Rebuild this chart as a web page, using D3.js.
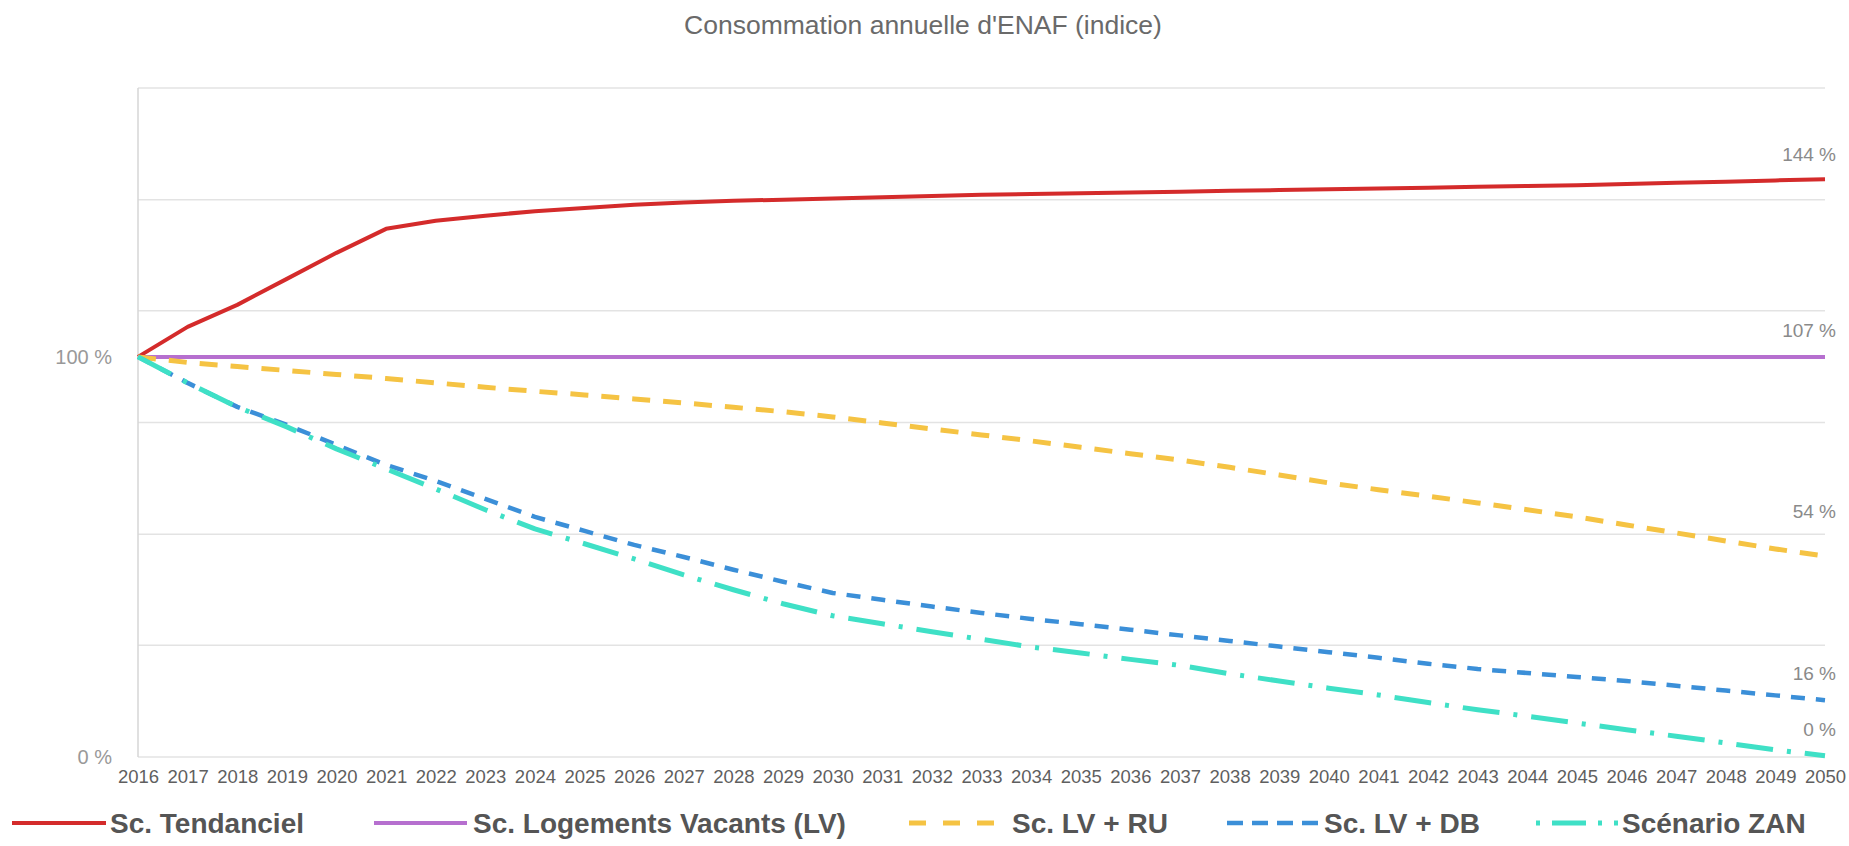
<!DOCTYPE html>
<html>
<head>
<meta charset="utf-8">
<script src="https://cdn.jsdelivr.net/npm/d3@7"></script>
<style>
  html, body { margin: 0; padding: 0; background: #fff; }
  svg { display: block; }
</style>
</head>
<body>
<div id="chart"></div>
<script>
// Données (indice, 2016 = 100)
const years = d3.range(2016, 2051);

const tendanciel = [100, 107.5, 113, 119.5, 126, 132, 134, 135.3, 136.4, 137.2,
  138, 138.6, 139, 139.3, 139.6, 139.9, 140.2, 140.5, 140.7, 140.9,
  141.1, 141.3, 141.5, 141.7, 141.9, 142.1, 142.3, 142.5, 142.7, 142.9,
  143.2, 143.5, 143.8, 144.1, 144.4];

const logementsVacants = [100, 100, 100, 100, 100, 100, 100, 100, 100, 100,
  100, 100, 100, 100, 100, 100, 100, 100, 100, 100,
  100, 100, 100, 100, 100, 100, 100, 100, 100, 100,
  100, 100, 100, 100, 100];

const lvRu = [100, 98.6, 97.6, 96.6, 95.6, 94.6, 93.5, 92.4, 91.4, 90.5,
  89.5, 88.5, 87.4, 86.3, 85, 83.5, 82, 80.5, 79, 77.4,
  75.8, 74.2, 72.4, 70.5, 68.5, 66.8, 65.2, 63.5, 61.8, 60,
  58, 56, 54, 52, 50.2];

const lvDb = [100, 93.5, 87.5, 83, 78, 73, 69, 64.5, 60, 56.5,
  53, 50, 46.8, 43.8, 41, 39.3, 37.6, 36, 34.5, 33.2,
  31.8, 30.4, 29, 27.6, 26.2, 24.8, 23.3, 22, 21, 20,
  19, 17.8, 16.6, 15.4, 14.2];

const zan = [100, 93.5, 87.5, 82.5, 77, 72, 67, 61.8, 57, 53.3,
  49.5, 45.5, 41.8, 38.3, 35.3, 33.3, 31.3, 29.4, 27.5, 26,
  24.4, 22.9, 20.8, 19, 17.2, 15.5, 13.6, 11.8, 10.2, 8.5,
  6.8, 5.2, 3.5, 1.8, 0.3];

const seriesNames  = ['Sc. Tendanciel', 'Sc. Logements Vacants (LV)', 'Sc. LV + RU', 'Sc. LV + DB', 'Scénario ZAN'];
const endLabels    = ['144 %', '107 %', '54 %', '16 %', '0 %'];
const yLabelValues = [100, 0];
const gridValues   = [27.9, 55.7, 83.6, 111.5, 139.3, 167.2];

// ── Styles des séries ────────────────────────────────────
const styles = [
  { color: '#d42b2b', width: 4,   dash: null },
  { color: '#b66fcf', width: 4,   dash: null },
  { color: '#f5c343', width: 5,   dash: '18 13' },
  { color: '#3b8fd8', width: 4.5, dash: '14 11' },
  { color: '#3fe0c6', width: 5,   dash: '37 14 4 14' }
];

const W = 1849, H = 846;
const plotLeft = 138, plotRight = 1825, plotTop = 88, plotBottom = 757;

const x = d3.scaleLinear().domain([2016, 2050]).range([plotLeft, plotRight]);
const y = d3.scaleLinear().domain([0, 167.2]).range([plotBottom, plotTop]);

const svg = d3.select('#chart').append('svg')
  .attr('width', W).attr('height', H)
  .style('font-family', '"Liberation Sans", Arial, sans-serif');

// Titre
svg.append('text')
  .attr('x', 923).attr('y', 34)
  .attr('text-anchor', 'middle')
  .style('font-size', '26.5px').style('fill', '#6a6a6a')
  .text("Consommation annuelle d'ENAF (indice)");

// Grille
svg.append('g').selectAll('line').data([0, ...gridValues]).join('line')
  .attr('x1', plotLeft).attr('x2', plotRight)
  .attr('y1', d => y(d)).attr('y2', d => y(d))
  .attr('stroke', '#e3e3e3').attr('stroke-width', 1.5);

svg.append('line')
  .attr('x1', plotLeft).attr('x2', plotLeft).attr('y1', plotTop).attr('y2', plotBottom)
  .attr('stroke', '#d6d6d6').attr('stroke-width', 1.5);

// Axe X
const xAxis = svg.append('g')
  .attr('transform', `translate(0,${plotBottom + 10})`)
  .call(d3.axisBottom(x).tickValues(years).tickFormat(d3.format('d')).tickSize(0));
xAxis.select('.domain').remove();
xAxis.selectAll('text')
  .style('font-size', '18.5px').style('fill', '#5f5f5f')
  .style('font-family', '"Liberation Sans", Arial, sans-serif');

// Libellés Y
svg.append('g').selectAll('text').data(yLabelValues).join('text')
  .attr('x', 112).attr('y', d => y(d) + 7)
  .attr('text-anchor', 'end')
  .style('font-size', '20px').style('fill', '#999')
  .text(d => d + ' %');

// Courbes
const allSeries = [tendanciel, logementsVacants, lvRu, lvDb, zan];
const line = d3.line().x((d, i) => x(years[i])).y(d => y(d));

allSeries.forEach((values, k) => {
  const st = styles[k];
  svg.append('path')
    .datum(values)
    .attr('d', line)
    .attr('fill', 'none')
    .attr('stroke', st.color)
    .attr('stroke-width', st.width)
    .attr('stroke-dasharray', st.dash)
    .attr('stroke-linejoin', 'round');
});

// Étiquettes de fin
const endY = allSeries.map(s => s[s.length - 1]);
const endOffsets = [-18, -20, -38, -20, -20];
svg.append('g').selectAll('text').data(endLabels).join('text')
  .attr('x', 1836)
  .attr('y', (d, i) => y(endY[i]) + endOffsets[i])
  .attr('text-anchor', 'end')
  .style('font-size', '19px').style('fill', '#8a8a8a')
  .text(d => d);

// Légende
const legendY = 823;
const legendItems = [
  { x1: 12,   x2: 106,  tx: 110 },
  { x1: 374,  x2: 467,  tx: 473 },
  { x1: 909,  x2: 996,  tx: 1012, dash: '17 17' },
  { x1: 1227, x2: 1318, tx: 1324, dash: '16 9' },
  { x1: 1536, x2: 1618, tx: 1622, dash: '4 12 34 12 4 12' }
];

const lg = svg.append('g');
legendItems.forEach((it, k) => {
  const st = styles[k];
  lg.append('line')
    .attr('x1', it.x1).attr('x2', it.x2)
    .attr('y1', legendY).attr('y2', legendY)
    .attr('stroke', st.color).attr('stroke-width', st.width)
    .attr('stroke-dasharray', it.dash || null);
  lg.append('text')
    .attr('x', it.tx).attr('y', legendY + 10)
    .style('font-size', '28px').style('font-weight', 'bold').style('fill', '#555')
    .text(seriesNames[k]);
});
</script>
</body>
</html>
